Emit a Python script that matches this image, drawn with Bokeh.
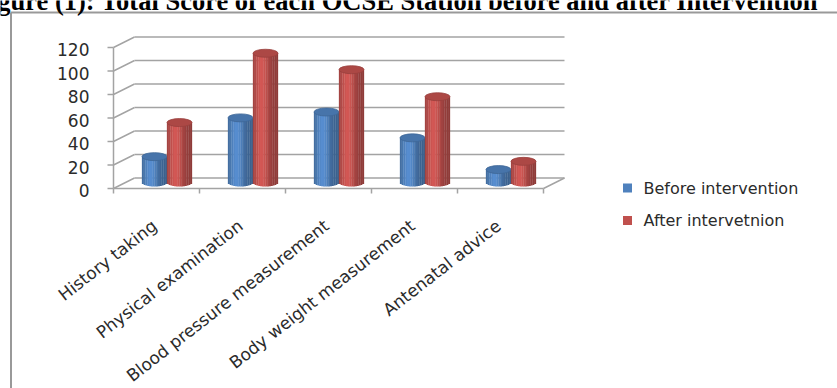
import math
from bokeh.plotting import figure
from bokeh.models import Range1d, ColumnDataSource
from bokeh.core.properties import value
from bokeh.embed import file_html
from bokeh.resources import INLINE

# ---------------- data ----------------
categories = ["History taking", "Physical examination", "Blood pressure measurement",
              "Body weight measurement", "Antenatal advice"]
before = [22, 55, 60, 38, 11]
after = [51, 110, 96, 73, 18]
y_ticks = [0, 20, 40, 60, 80, 100, 120]
series_names = ["Before intervention", "After intervetnion"]
title_text = "gure (1): Total Score of each OCSE Station before and after Intervention"

# ---------------- layout (pixels) ----------------
W, H = 837, 388
AX0, AY0 = 113, 188          # front origin of the 3D axes
CAT_W = 86                   # pixel width of one category
PX_PER_UNIT = 1.175          # pixels per value unit
DEPTH_X, DEPTH_Y = 21, 10.5  # 3D depth offset


def X(px):
    return (px - AX0) / CAT_W


def Y(py):
    return (AY0 - py) / PX_PER_UNIT


DX = DEPTH_X / CAT_W
DY = DEPTH_Y / PX_PER_UNIT
GRID = "#a3a3a3"
TXT = "#2b2b2b"
FONT = value("DejaVu Sans")

p = figure(width=W, height=H, x_range=Range1d(X(0), X(W)), y_range=Range1d(Y(H), Y(0)),
           x_axis_type=None, y_axis_type=None, toolbar_location=None,
           output_backend="svg", min_border=0, outline_line_color=None, title=None)
p.background_fill_color = "white"
p.border_fill_color = "white"

# outer frame lines
p.segment(x0=[X(10.5), X(10.5)], y0=[Y(12), Y(12)], x1=[X(10.5), X(W)], y1=[Y(H), Y(12)],
          line_color="#999999", line_width=2)

# title (cut at the top like the source)
p.text(x=[X(818)], y=[Y(0)], text=[title_text], text_align="right",
       text_baseline="alphabetic", text_font=value("Liberation Serif"),
       text_font_style="bold", text_font_size="26.5px", text_color="black")

# gridlines: tick mark, side wall diagonal, back wall line
n_cat = len(categories)
gx0, gy0, gx1, gy1 = [], [], [], []
for t in y_ticks:
    gx0 += [X(AX0 - 6), 0, DX]
    gy0 += [t, t, t + DY]
    gx1 += [0, DX, n_cat + DX]
    gy1 += [t, t + DY, t + DY]
# front vertical axis, floor front line, right floor diagonal
gx0 += [0, 0, n_cat]
gy0 += [0, 0, 0]
gx1 += [0, n_cat, n_cat + DX]
gy1 += [y_ticks[-1], 0, DY]
# category ticks
for i in range(n_cat + 1):
    gx0.append(i); gy0.append(0); gx1.append(i); gy1.append(-5 / PX_PER_UNIT)
p.segment(x0=gx0, y0=gy0, x1=gx1, y1=gy1, line_color=GRID, line_width=1.5)

# y tick labels
p.text(x=[X(89)] * len(y_ticks), y=[t - 2 / PX_PER_UNIT for t in y_ticks],
       text=[str(t) for t in y_ticks], text_align="right", text_baseline="middle",
       text_font=FONT, text_font_size="17px", text_color=TXT)

# cylinders
BAR_W = 25 / CAT_W
EH = 8 / PX_PER_UNIT
BASE = Y(182)
N = 14
colors = [(79, 129, 189), (192, 80, 77)]


def shade(rgb, f):
    return "#%02x%02x%02x" % tuple(max(0, min(255, int(c * f))) for c in rgb)


for s, vals in enumerate([before, after]):
    centers = [i + 0.5 + DX / 2 + (s - 0.5) * BAR_W for i in range(n_cat)]
    tops = [BASE + v for v in vals]
    for k in range(N):
        u = -1 + (2 * k + 1) / N
        f = 0.74 + 0.36 * math.exp(-((u + 0.3) ** 2) / 0.35)
        bottom = BASE - (EH / 2) * math.sqrt(max(0.0, 1 - u * u))
        src = ColumnDataSource(dict(x=[c + u * BAR_W / 2 for c in centers], top=tops))
        p.vbar(x="x", top="top", bottom=bottom, width=BAR_W / N * 1.15, source=src,
               fill_color=shade(colors[s], f), line_color=None)
    p.ellipse(x=centers, y=tops, width=BAR_W, height=EH,
              fill_color=shade(colors[s], 0.9), line_color=shade(colors[s], 0.8), line_width=0.8)

# category labels
p.text(x=[i + 0.5 - 2 / CAT_W for i in range(n_cat)], y=[Y(223)] * n_cat, text=categories,
       angle=0.663, text_align="right", text_baseline="middle",
       text_font=FONT, text_font_size="17px", text_color=TXT)

# legend
p.scatter(x=[X(627), X(627)], y=[Y(187.5), Y(220)], marker="square", size=9,
          fill_color=[shade(c, 1.0) for c in colors], line_color=None)
p.text(x=[X(643)] * 2, y=[Y(187.5), Y(220)], text=series_names, text_baseline="middle",
       text_font=FONT, text_font_size="16px", text_color=TXT)

open("out.html", "w").write(file_html(p, INLINE))
